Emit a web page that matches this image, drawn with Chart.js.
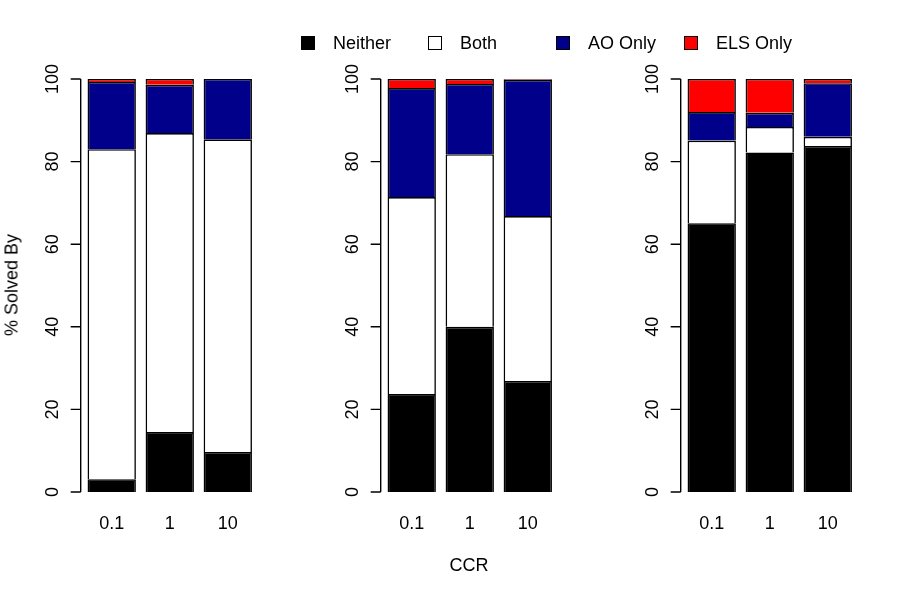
<!DOCTYPE html>
<html>
<head>
<meta charset="utf-8">
<script src="https://cdn.jsdelivr.net/npm/chart.js@4/dist/chart.umd.min.js"></script>
<style>
  html, body { margin: 0; padding: 0; background: #fff; }
  body { width: 898px; height: 598px; position: relative; overflow: hidden;
         font-family: "Liberation Sans", Arial, Helvetica, sans-serif; color: #000; }
  canvas.panel { position: absolute; left: 0; top: 0; }
  .leg { position: absolute; top: 33px; font-size: 18px; line-height: 20px; }
  .sw { position: absolute; width: 12px; height: 12px; border: 1px solid #000; top: 36px; }
  .lab { position: absolute; font-size: 18px; }
</style>
</head>
<body>
<canvas id="c0" class="panel" width="898" height="598"></canvas>
<canvas id="c1" class="panel" width="898" height="598"></canvas>
<canvas id="c2" class="panel" width="898" height="598"></canvas>

<div class="sw" style="left:301px;background:#000000"></div><div class="leg" style="left:333px">Neither</div>
<div class="sw" style="left:428px;background:#ffffff"></div><div class="leg" style="left:460px">Both</div>
<div class="sw" style="left:556px;background:#00008B"></div><div class="leg" style="left:588px">AO Only</div>
<div class="sw" style="left:684px;background:#FF0000"></div><div class="leg" style="left:716px">ELS Only</div>

<div class="lab" style="left:12px;top:285px;transform:translate(-50%,-50%) rotate(-90deg);white-space:nowrap">% Solved By</div>
<div class="lab" style="left:469px;top:565px;transform:translate(-50%,-50%)">CCR</div>

<script>
// ---- data ----
const categories = ['0.1', '1', '10'];
const seriesNames = ['Neither', 'Both', 'AO Only', 'ELS Only'];
const seriesColors = ['#000000', '#FFFFFF', '#00008B', '#FF0000'];
const yTicks = [0, 20, 40, 60, 80, 100];

// panel 1
const neither1 = [3.1, 14.5, 9.7];
const both1    = [79.9, 72.4, 75.7];
const ao1      = [16.3, 11.7, 14.6];
const els1     = [0.7, 1.4, 0];
// panel 2
const neither2 = [23.7, 40.0, 26.9];
const both2    = [47.7, 41.8, 39.9];
const ao2      = [26.4, 17.0, 33.0];
const els2     = [2.2, 1.2, 0.2];
// panel 3
const neither3 = [65.1, 82.2, 83.8];
const both3    = [20.0, 6.2, 2.2];
const ao3      = [6.9, 3.4, 13.0];
const els3     = [8.0, 8.2, 1.0];

const panels = [
  [neither1, both1, ao1, els1],
  [neither2, both2, ao2, els2],
  [neither3, both3, ao3, els3]
];

const FONT = '"Liberation Sans", Arial, Helvetica, sans-serif';

// R-style y axis drawn from the chart's own y scale
const rAxis = {
  id: 'rAxis',
  afterDraw(chart) {
    const ctx = chart.ctx;
    const y = chart.scales.y;
    const ax = chart.chartArea.left - 2;
    ctx.save();
    ctx.strokeStyle = '#000';
    ctx.lineWidth = 1.4;
    ctx.beginPath();
    ctx.moveTo(ax, y.getPixelForValue(yTicks[0]));
    ctx.lineTo(ax, y.getPixelForValue(yTicks[yTicks.length - 1]));
    yTicks.forEach(t => {
      const py = y.getPixelForValue(t);
      ctx.moveTo(ax, py);
      ctx.lineTo(ax - 10, py);
    });
    ctx.stroke();
    ctx.fillStyle = '#000';
    ctx.font = '18px ' + FONT;
    ctx.textAlign = 'center';
    ctx.textBaseline = 'middle';
    yTicks.forEach(t => {
      const py = y.getPixelForValue(t);
      ctx.save();
      ctx.translate(ax - 29, py);
      ctx.rotate(-Math.PI / 2);
      ctx.fillText(String(t), 0, 1);
      ctx.restore();
    });
    ctx.restore();
  }
};

panels.forEach((vals, k) => {
  const left = 82.7 + 300 * k;
  const right = 256.8 + 300 * k;
  new Chart(document.getElementById('c' + k), {
    type: 'bar',
    data: {
      labels: categories,
      datasets: vals.map((v, i) => ({
        label: seriesNames[i],
        data: v,
        backgroundColor: seriesColors[i],
        borderColor: '#000',
        borderWidth: 1.6,
        borderSkipped: 'start',
        barPercentage: 0.8333,
        categoryPercentage: 1.0
      }))
    },
    options: {
      responsive: false,
      animation: false,
      devicePixelRatio: 1,
      layout: { padding: { left: left, right: 898 - right, top: 79, bottom: 66 } },
      plugins: { legend: { display: false }, tooltip: { enabled: false } },
      scales: {
        x: {
          stacked: true,
          grid: { display: false, drawTicks: false },
          border: { display: false },
          ticks: { color: '#000', font: { size: 18, family: FONT }, padding: 21 },
          afterFit(s) { s.height = 40; }
        },
        y: {
          stacked: true,
          min: 0, max: 100,
          display: false
        }
      }
    },
    plugins: [rAxis]
  });
});
</script>
</body>
</html>
